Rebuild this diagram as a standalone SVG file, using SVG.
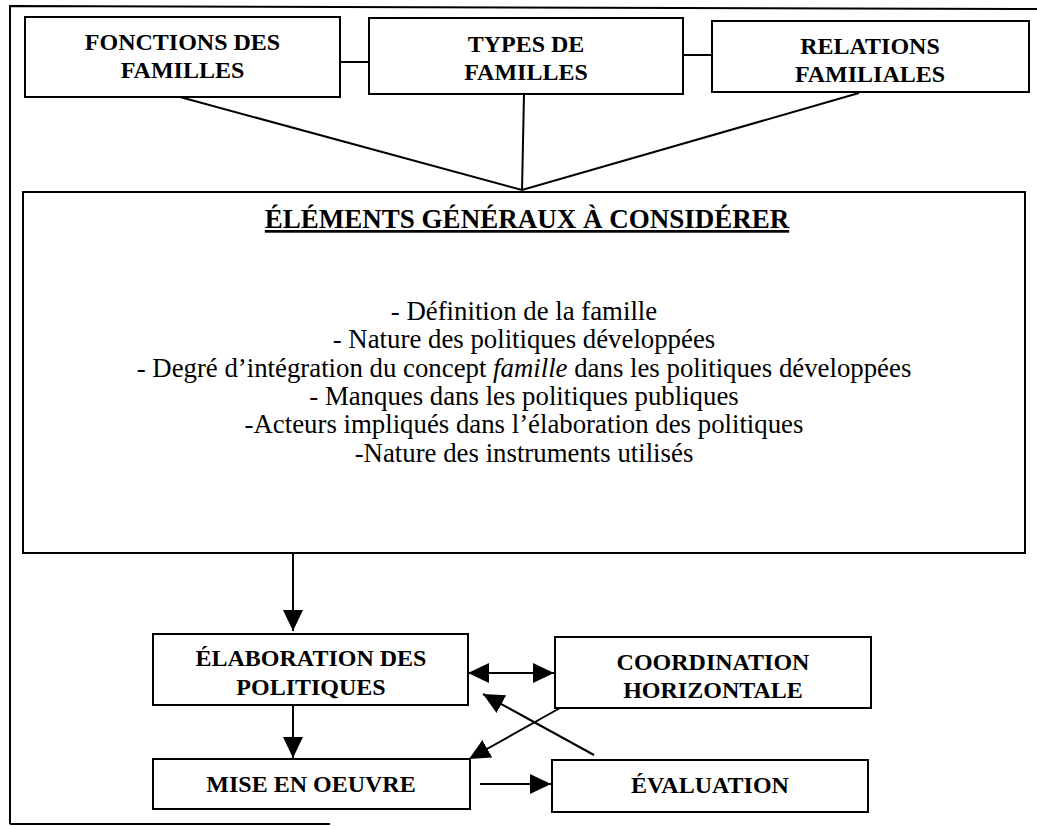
<svg xmlns="http://www.w3.org/2000/svg" width="1037" height="826" viewBox="0 0 1037 826">
<defs>
<style>
.box{fill:#fff;stroke:#000;stroke-width:2}
.ln{fill:none;stroke:#000;stroke-width:2}
.hd{font-weight:bold;font-size:24px;text-anchor:middle;fill:#000}
.ttl{font-weight:bold;font-size:27px;text-anchor:middle;fill:#000;text-decoration:underline}
.lst{font-size:26.8px;text-anchor:middle;fill:#000}
</style>
<marker id="ah" viewBox="0 0 21 20" refX="21" refY="10" markerWidth="21" markerHeight="20" markerUnits="userSpaceOnUse" orient="auto-start-reverse">
<path d="M0,0 L21,10 L0,20 Z" fill="#000"/>
</marker>
</defs>
<rect width="1037" height="826" fill="#fff"/>
<g id="frame">
<path class="ln" d="M10,824 L10,6 L1037,9"/>
<path class="ln" d="M10,824 L330,824"/>
</g>
<g id="connectors">
<path class="ln" d="M340,62 L369,62"/>
<path class="ln" d="M683,55 L712,55"/>
<path class="ln" d="M180,97 L522,190 L859,93"/>
<path class="ln" d="M524,94 L522,190"/>
<path class="ln" d="M293,553 L293,631" marker-end="url(#ah)"/>
<path class="ln" d="M293,705 L293,758" marker-end="url(#ah)"/>
<path class="ln" d="M468,673 L554,673" marker-start="url(#ah)" marker-end="url(#ah)"/>
<path class="ln" d="M594,755 L483,694" marker-end="url(#ah)"/>
<path class="ln" d="M560,708 L469,759" marker-end="url(#ah)"/>
<path class="ln" d="M480,784 L551,784" marker-end="url(#ah)"/>
</g>
<g font-family="Liberation Serif, Times New Roman, serif">
<g id="fonctions">
<rect class="box" x="25" y="17" width="315" height="80"/>
<text class="hd" x="182.5" y="50">FONCTIONS DES</text>
<text class="hd" x="182.5" y="78">FAMILLES</text>
</g>
<g id="types">
<rect class="box" x="369" y="18" width="314" height="76"/>
<text class="hd" x="526" y="52">TYPES DE</text>
<text class="hd" x="526" y="80">FAMILLES</text>
</g>
<g id="relations">
<rect class="box" x="712" y="21" width="317" height="71"/>
<text class="hd" x="870" y="54">RELATIONS</text>
<text class="hd" x="870" y="82">FAMILIALES</text>
</g>
<g id="elements">
<rect class="box" x="23" y="192" width="1002" height="361"/>
<text class="ttl" x="527" y="228">ÉLÉMENTS GÉNÉRAUX À CONSIDÉRER</text>
<text class="lst" x="524" y="320">- Définition de la famille</text>
<text class="lst" x="524" y="348">- Nature des politiques développées</text>
<text class="lst" x="524" y="377">- Degré d’intégration du concept <tspan font-style="italic">famille</tspan> dans les politiques développées</text>
<text class="lst" x="524" y="405">- Manques dans les politiques publiques</text>
<text class="lst" x="524" y="433">-Acteurs impliqués dans l’élaboration des politiques</text>
<text class="lst" x="524" y="462">-Nature des instruments utilisés</text>
</g>
<g id="elaboration">
<rect class="box" x="153" y="634" width="315" height="71"/>
<text class="hd" x="311" y="666">ÉLABORATION DES</text>
<text class="hd" x="311" y="695">POLITIQUES</text>
</g>
<g id="coordination">
<rect class="box" x="555" y="637" width="316" height="71"/>
<text class="hd" x="713" y="670">COORDINATION</text>
<text class="hd" x="713" y="698">HORIZONTALE</text>
</g>
<g id="mise">
<rect class="box" x="153" y="759" width="317" height="50"/>
<text class="hd" x="311" y="792">MISE EN OEUVRE</text>
</g>
<g id="evaluation">
<rect class="box" x="552" y="760" width="316" height="52"/>
<text class="hd" x="710" y="793">ÉVALUATION</text>
</g>
</g>
</svg>
